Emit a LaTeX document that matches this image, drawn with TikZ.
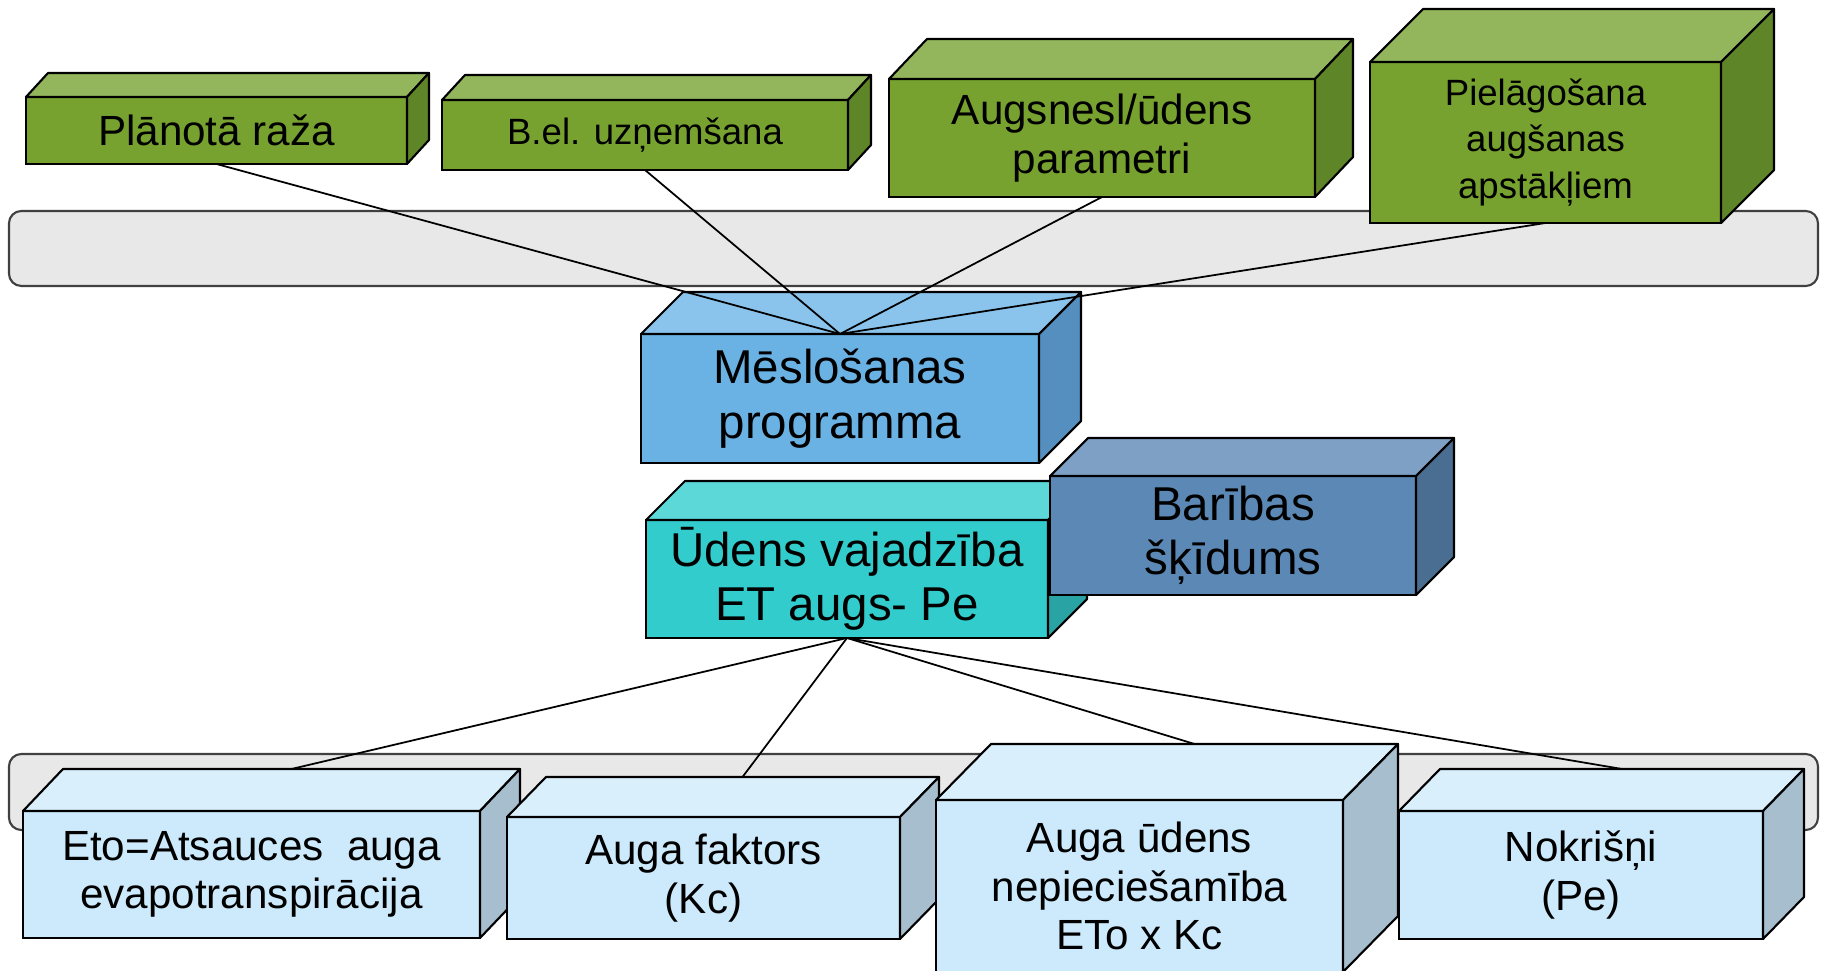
\documentclass[tikz,border=0pt]{standalone}
\usepackage{fontspec}
\setmainfont{Liberation Sans}
\usetikzlibrary{calc,fit}

\definecolor{greenfront}{HTML}{77A22F}
\definecolor{greentop}{HTML}{93B55B}
\definecolor{greenside}{HTML}{5E8527}
\definecolor{bluefront}{HTML}{6BB2E4}
\definecolor{bluetop}{HTML}{8AC3EC}
\definecolor{blueside}{HTML}{548FBF}
\definecolor{tealfront}{HTML}{33CCCC}
\definecolor{tealtop}{HTML}{5CD8D8}
\definecolor{tealside}{HTML}{29A3A3}
\definecolor{steelfront}{HTML}{5B88B4}
\definecolor{steeltop}{HTML}{7FA0C5}
\definecolor{steelside}{HTML}{4A6D92}
\definecolor{palefront}{HTML}{CCEAFB}
\definecolor{paletop}{HTML}{D9EFFC}
\definecolor{paleside}{HTML}{A7BECF}
\definecolor{barfill}{HTML}{E8E8E8}

\tikzset{
  cube/.style={draw, line width=0.6pt, inner sep=0pt, outer sep=0pt},
  label/.style={align=center, inner sep=0pt, font=\fontsize{12}{13.8}\selectfont},
  face/.style={draw, line width=0.6pt, line join=round},
  bar/.style={draw=black!75, fill=barfill, line width=0.6pt, rounded corners=3.5pt},
  link/.style={line width=0.5pt},
  big/.style={font=\fontsize{13.5}{15.5}\selectfont},
  small/.style={font=\fontsize{10.4}{13.2}\selectfont},
}

% name, lower left, upper right, depth, colour, text
\newcommand{\cuboid}[7][]{%
  \node[cube, fit={(#3) (#4)}, fill=#6front] (#2) {};
  \filldraw[face, fill=#6top] (#2.north west) -- ++(#5) -- ($(#2.north east)+(#5)$) -- (#2.north east) -- cycle;
  \filldraw[face, fill=#6side] (#2.north east) -- ++(#5) -- ($(#2.south east)+(#5)$) -- (#2.south east) -- cycle;
  \node[label, #1] (#2-text) at (#2.center) {#7};
  \coordinate (#2-top) at ($(#2.north)+(#5)$);
}

\begin{document}
\begin{tikzpicture}[x=0.01cm, y=0.01cm]
\useasboundingbox (0,0) rectangle (1825,970);
\clip (0,0) rectangle (1825,970);

\draw[bar] (9,684) rectangle (1818,759);
\cuboid{plan}{26,806}{407,873}{22,24}{green}{Plānotā raža}
\cuboid[small]{uzn}{442,800}{848,870}{23,25}{green}{B.el. uzņemšana}
\cuboid{augs}{889,773}{1315,891}{38,40}{green}{Augsnesl/ūdens\\parametri}
\cuboid[small]{piel}{1370,747}{1721,908}{53,53}{green}{Pielāgošana\\augšanas\\apstākļiem}
\cuboid[big]{mesl}{641,507}{1039,636}{42,42}{blue}{Mēslošanas\\programma}
\foreach \n in {plan,uzn,augs,piel}
  \draw[link] (\n.south) -- (mesl.north);

\cuboid[big]{uden}{646,332}{1048,450}{39,39}{teal}{Ūdens vajadzība\\ET augs- Pe}
\cuboid[big]{barib}{1050,375}{1416,494}{38,38}{steel}{Barības\\šķīdums}

\draw[bar] (9,140) rectangle (1818,216);
\cuboid{eto}{23,32}{480,159}{40,42}{pale}{Eto=Atsauces\ \ auga\\evapotranspirācija}
\cuboid{kc}{507,31}{900,153}{39,40}{pale}{Auga faktors\\(Kc)}
\cuboid{need}{936,-2}{1343,170}{55,56}{pale}{Auga ūdens\\nepieciešamība\\ETo x Kc}
\cuboid{pe}{1399,31}{1763,159}{41,42}{pale}{Nokrišņi\\(Pe)}
\foreach \n in {eto,kc,need,pe}
  \draw[link] (uden.south) -- (\n-top);
\end{tikzpicture}
\end{document}
